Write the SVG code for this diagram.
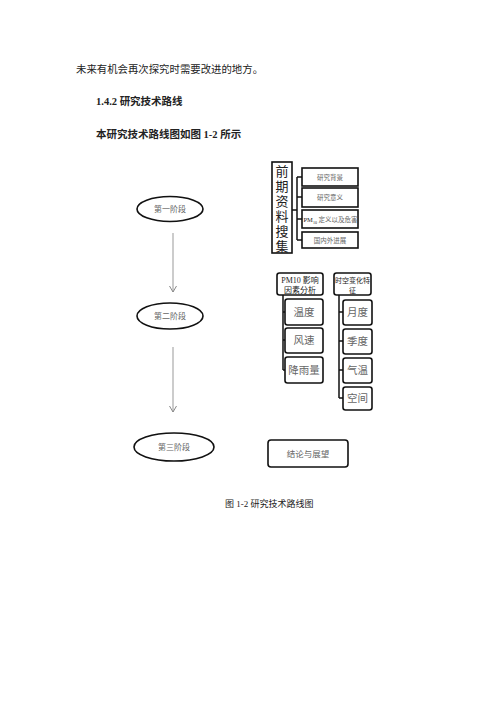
<svg xmlns="http://www.w3.org/2000/svg" width="500" height="707" viewBox="0 0 500 707">
<style>
.t{font-family:"Liberation Serif","Noto Sans CJK SC",serif;fill:#222}
.b{font-weight:bold}
.s{font-family:"Liberation Serif","Noto Sans CJK SC",serif;fill:#666}
.box{fill:#fff;stroke:#111;stroke-width:1.6}
.ell{fill:#fff;stroke:#111;stroke-width:1.6}
.ln{fill:none;stroke:#111;stroke-width:1.5}
.ar{fill:none;stroke:#999;stroke-width:1}
</style>
<defs>
<marker id="ah" markerWidth="8" markerHeight="8" refX="7" refY="4" orient="auto" markerUnits="userSpaceOnUse">
<path d="M1,0.5 L7,4 L1,7.5" fill="none" stroke="#888" stroke-width="1"/>
</marker>
</defs>
<rect width="500" height="707" fill="#fff"/>
<text class="t" x="76" y="73" font-size="10.4">未来有机会再次探究时需要改进的地方。</text>
<text class="t b" x="96" y="105" font-size="10.5">1.4.2  研究技术路线</text>
<text class="t b" x="96" y="138" font-size="10.5">本研究技术路线图如图 1-2 所示</text>
<g id="connectors">
<line class="ar" x1="173" y1="233" x2="173" y2="292" marker-end="url(#ah)"/>
<line class="ar" x1="173" y1="347" x2="173" y2="412" marker-end="url(#ah)"/>
<path class="ln" d="M292,210 H297 M297,177 V240 M297,177 H302 M297,197 H302 M297,219 H302 M297,240 H302"/>
<path class="ln" d="M283,295 V370 M283,312 H285 M283,340 H285 M283,370 H285"/>
<path class="ln" d="M339,295 V398 M339,312 H343 M339,341 H343 M339,370 H343 M339,398 H343"/>
</g>
<g id="stage1">
<ellipse class="ell" cx="170" cy="209" rx="33" ry="12.5"/>
<text class="s" x="170" y="212" font-size="8" text-anchor="middle">第一阶段</text>
</g>
<g id="stage2">
<ellipse class="ell" cx="170" cy="316" rx="33" ry="13"/>
<text class="s" x="170" y="319" font-size="8" text-anchor="middle">第二阶段</text>
</g>
<g id="stage3">
<ellipse class="ell" cx="174" cy="447" rx="40" ry="14"/>
<text class="s" x="174" y="450" font-size="8" text-anchor="middle">第三阶段</text>
</g>
<g id="collect">
<rect class="box" x="272" y="162" width="20" height="91"/>
<text class="t" x="282" y="176" font-size="13" text-anchor="middle">前</text>
<text class="t" x="282" y="191" font-size="13" text-anchor="middle">期</text>
<text class="t" x="282" y="206" font-size="13" text-anchor="middle">资</text>
<text class="t" x="282" y="221" font-size="13" text-anchor="middle">料</text>
<text class="t" x="282" y="236" font-size="13" text-anchor="middle">搜</text>
<text class="t" x="282" y="251" font-size="13" text-anchor="middle">集</text>
</g>
<g id="bg">
<rect class="box" x="302" y="168" width="56" height="18"/>
<text class="s" x="330" y="180" font-size="6.5" text-anchor="middle">研究背景</text>
</g>
<g id="yy">
<rect class="box" x="302" y="188" width="56" height="19"/>
<text class="s" x="330" y="200" font-size="6.5" text-anchor="middle">研究意义</text>
</g>
<g id="pm">
<rect class="box" x="302" y="210" width="56" height="18"/>
<text class="t" x="303.5" y="222" font-size="6.5">PM<tspan font-size="4" dy="1.5">10</tspan><tspan dy="-1.5" fill="#666"> 定义以及危害</tspan></text>
</g>
<g id="gn">
<rect class="box" x="302" y="232" width="56" height="16"/>
<text class="s" x="330" y="242.5" font-size="6.5" text-anchor="middle">国内外进展</text>
</g>
<g id="pm10">
<rect class="box" x="277" y="273" width="46" height="22" rx="2.5"/>
<text class="t" x="300" y="283" font-size="8" text-anchor="middle" fill="#333">PM10 影响</text>
<text class="t" x="300" y="293" font-size="8" text-anchor="middle" fill="#333">因素分析</text>
</g>
<g id="wd">
<rect class="box" x="285" y="299" width="38" height="26" rx="2.5"/>
<text class="s" x="304" y="316" font-size="10.5" text-anchor="middle">温度</text>
</g>
<g id="fs">
<rect class="box" x="285" y="328" width="38" height="25" rx="2.5"/>
<text class="s" x="304" y="344" font-size="10.5" text-anchor="middle">风速</text>
</g>
<g id="jy">
<rect class="box" x="285" y="357" width="38" height="26" rx="2.5"/>
<text class="s" x="304" y="374" font-size="10.5" text-anchor="middle">降雨量</text>
</g>
<g id="sk">
<rect class="box" x="334" y="273" width="37" height="22" rx="2.5"/>
<text class="t" x="352.5" y="283" font-size="7" text-anchor="middle" fill="#333">时空变化特</text>
<text class="t" x="352.5" y="293" font-size="7" text-anchor="middle" fill="#333">征</text>
</g>
<g id="yd">
<rect class="box" x="343" y="300" width="29" height="25" rx="2.5"/>
<text class="s" x="357.5" y="316" font-size="10.5" text-anchor="middle">月度</text>
</g>
<g id="jd">
<rect class="box" x="343" y="329" width="29" height="25" rx="2.5"/>
<text class="s" x="357.5" y="345" font-size="10.5" text-anchor="middle">季度</text>
</g>
<g id="qw">
<rect class="box" x="343" y="358" width="29" height="25" rx="2.5"/>
<text class="s" x="357.5" y="374" font-size="10.5" text-anchor="middle">气温</text>
</g>
<g id="kj">
<rect class="box" x="343" y="387" width="29" height="23" rx="2.5"/>
<text class="s" x="357.5" y="402" font-size="10.5" text-anchor="middle">空间</text>
</g>
<g id="jl">
<rect class="box" x="268" y="440" width="80" height="27" rx="3"/>
<text class="s" x="308" y="457" font-size="8.5" text-anchor="middle">结论与展望</text>
</g>
<text class="t" x="225" y="507" font-size="9" fill="#333">图 1-2  研究技术路线图</text>
</svg>
